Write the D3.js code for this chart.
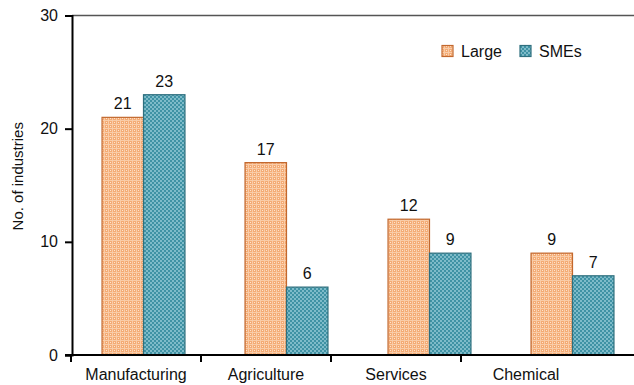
<!DOCTYPE html>
<html>
<head>
<meta charset="utf-8">
<script src="https://cdn.jsdelivr.net/npm/d3@7"></script>
<style>
  html, body { margin: 0; padding: 0; background: #fff; }
  svg { display: block; font-family: "Liberation Sans", Arial, sans-serif; }
</style>
</head>
<body>
<svg id="chart" width="634" height="385"></svg>
<script>
// Industry counts by firm size
const categories = ["Manufacturing", "Agriculture", "Services", "Chemical"];
const seriesNames = ["Large", "SMEs"];
const largeValues = [21, 17, 12, 9];
const smeValues = [23, 6, 9, 7];
const yTicks = [0, 10, 20, 30];

const svg = d3.select("#chart");
const W = 634, H = 385;
const axisX = 72, plotTop = 15.5, plotBottom = 355;

// Textured fills for the two series
const defs = svg.append("defs");
const pL = defs.append("pattern").attr("id", "patLarge")
  .attr("patternUnits", "userSpaceOnUse").attr("width", 4).attr("height", 4);
pL.append("rect").attr("width", 4).attr("height", 4).attr("fill", "#f4ab74");
pL.append("rect").attr("x", 0).attr("y", 0).attr("width", 4).attr("height", 1).attr("fill", "#f9cca8");
pL.append("rect").attr("x", 0).attr("y", 0).attr("width", 1).attr("height", 4).attr("fill", "#f9cca8");
pL.append("rect").attr("x", 2).attr("y", 2).attr("width", 1).attr("height", 1).attr("fill", "#fde3cf");

const pS = defs.append("pattern").attr("id", "patSme")
  .attr("patternUnits", "userSpaceOnUse").attr("width", 4).attr("height", 4);
pS.append("rect").attr("width", 4).attr("height", 4).attr("fill", "#3f92a4");
pS.append("rect").attr("x", 0).attr("y", 0).attr("width", 2).attr("height", 2).attr("fill", "#7ebbc9");
pS.append("rect").attr("x", 2).attr("y", 2).attr("width", 2).attr("height", 2).attr("fill", "#7ebbc9");

const fills = { Large: "url(#patLarge)", SMEs: "url(#patSme)" };
const strokes = { Large: "#c2682e", SMEs: "#2f6f7e" };

const y = d3.scaleLinear().domain([0, 30]).range([plotBottom, plotTop]);

// Category axis (labels and tick divisions)
const xAxisScale = d3.scaleBand().domain(categories).range([71, 591]);
// Bar group placement
const xGroup = d3.scaleBand().domain(categories).range([72, 644]).paddingInner(0.42).paddingOuter(0.21);
const xInner = d3.scaleBand().domain(seriesNames).range([0, xGroup.bandwidth()]);

const rows = categories.map((c, i) => ({ cat: c, Large: largeValues[i], SMEs: smeValues[i] }));

// Top frame line
svg.append("line").attr("x1", axisX).attr("x2", W).attr("y1", plotTop).attr("y2", plotTop)
  .attr("stroke", "#555").attr("stroke-width", 1.5);

// Bars
const g = svg.append("g");
rows.forEach(r => {
  seriesNames.forEach(s => {
    const x0 = xGroup(r.cat) + xInner(s);
    g.append("rect")
      .attr("x", x0).attr("y", y(r[s]))
      .attr("width", xInner.bandwidth()).attr("height", y(0) - y(r[s]))
      .attr("fill", fills[s]).attr("stroke", strokes[s]).attr("stroke-width", 1.2);
    g.append("text")
      .attr("x", x0 + xInner.bandwidth() / 2).attr("y", y(r[s]) - 8)
      .attr("text-anchor", "middle").attr("font-size", 16).attr("fill", "#111")
      .text(r[s]);
  });
});

// Y axis
const yAxis = svg.append("g").attr("transform", `translate(${axisX},0)`)
  .call(d3.axisLeft(y).tickValues(yTicks).tickSize(7).tickPadding(7));
yAxis.select(".domain").attr("stroke", "#000").attr("stroke-width", 2);
yAxis.selectAll(".tick line").attr("stroke", "#000").attr("stroke-width", 2);
yAxis.selectAll(".tick text").attr("font-size", 16).attr("fill", "#111")
  .attr("font-family", "Liberation Sans, Arial, sans-serif");

// X axis
const xAxis = svg.append("g").attr("transform", `translate(0,${plotBottom})`);
xAxis.append("line").attr("x1", axisX - 7).attr("x2", W).attr("y1", 0).attr("y2", 0)
  .attr("stroke", "#000").attr("stroke-width", 2);
xAxis.selectAll("line.div").data(categories).enter().append("line")
  .attr("class", "div")
  .attr("x1", d => xAxisScale(d)).attr("x2", d => xAxisScale(d))
  .attr("y1", 0).attr("y2", 7).attr("stroke", "#000").attr("stroke-width", 2);
xAxis.selectAll("text").data(categories).enter().append("text")
  .attr("x", d => xAxisScale(d) + xAxisScale.bandwidth() / 2)
  .attr("y", 25).attr("text-anchor", "middle").attr("font-size", 16).attr("fill", "#111")
  .text(d => d);

// Y axis title
svg.append("text")
  .attr("transform", `translate(23,${(plotTop + plotBottom) / 2 - 9}) rotate(-90)`)
  .attr("text-anchor", "middle").attr("font-size", 15).attr("fill", "#111")
  .text("No. of industries");

// Legend
const legendX = [442, 520];
const leg = svg.append("g");
seriesNames.forEach((s, i) => {
  leg.append("rect").attr("x", legendX[i]).attr("y", 45.5).attr("width", 11).attr("height", 11)
    .attr("fill", fills[s]).attr("stroke", strokes[s]).attr("stroke-width", 1.2);
  leg.append("text").attr("x", legendX[i] + 19).attr("y", 56.5).attr("font-size", 16).attr("fill", "#111")
    .text(s);
});
</script>
</body>
</html>
